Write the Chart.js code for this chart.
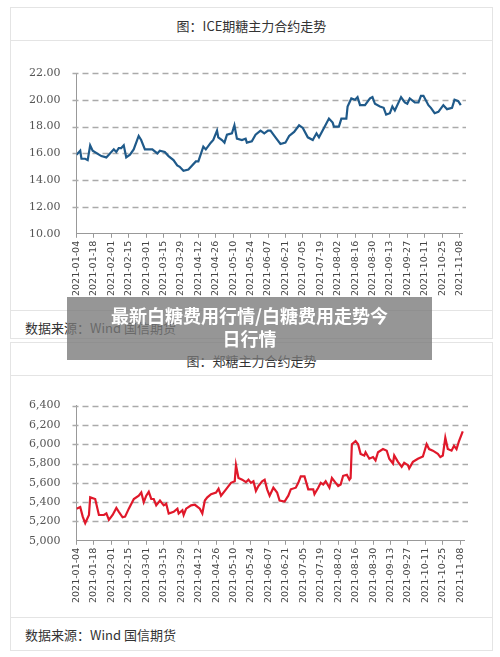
<!DOCTYPE html>
<html><head><meta charset="utf-8">
<script src="https://cdn.jsdelivr.net/npm/chart.js@4.4.0/dist/chart.umd.min.js"></script>
<style>
body{margin:0;background:#fff;font-family:"Noto Sans CJK SC",sans-serif;}
.card{position:absolute;left:10px;width:481px;border:1px solid #e4e4e4;background:#fff;}
.title{position:absolute;left:0;width:100%;text-align:center;font-size:13px;color:#333;}
.sep{position:absolute;left:0;width:100%;border-top:1px solid #e4e4e4;}
.foot{position:absolute;left:14px;font-size:13px;color:#333;}
.cv{position:absolute;left:0;}
#banner{position:absolute;left:67px;top:297px;width:365px;height:63px;background:rgba(120,120,120,0.78);color:#fff;font-weight:bold;font-size:18px;line-height:23px;text-align:center;padding-top:7px;box-sizing:border-box;}
</style></head><body>
<div class="card" style="top:7px;height:330px;">
  <div class="title" style="top:8px;">图：ICE期糖主力合约走势</div>
  <div class="sep" style="top:32px;"></div>
  <div class="cv" style="top:40px;width:481px;height:251px;"><canvas id="c1"></canvas></div>
  <div class="sep" style="top:302px;"></div>
  <div class="foot" style="top:310px;">数据来源：Wind 国信期货</div>
</div>
<div class="card" style="top:342px;height:307px;">
  <div class="title" style="top:8px;">图：郑糖主力合约走势</div>
  <div class="sep" style="top:32px;"></div>
  <div class="cv" style="top:48px;width:481px;height:215px;"><canvas id="c2"></canvas></div>
  <div class="sep" style="top:274px;"></div>
  <div class="foot" style="top:282px;">数据来源：Wind 国信期货</div>
</div>
<div id="banner">最新白糖费用行情/白糖费用走势今<br>日行情</div>
<script>
const startDate = [2021, 0, 4];
const iceDays = [0,3,4,7,9,11,13,20,24,26,30,32,34,36,38,40,43,46,50,52,55,58,61,65,67,71,74,78,81,83,86,90,96,98,102,104,108,110,113,114,117,119,121,125,127,129,133,136,137,141,144,148,151,154,156,160,164,168,171,175,179,182,186,190,193,195,199,203,206,207,211,213,217,218,221,224,226,228,232,236,238,240,244,247,249,252,254,256,261,264,266,268,272,275,277,279,283,285,288,291,295,298,302,304,307,309];
const iceVals = [15.9,16.2,15.6,15.6,15.5,16.6,16.2,15.8,15.7,15.9,16.3,16.1,16.4,16.4,16.6,15.7,15.9,16.3,17.3,17.0,16.3,16.3,16.3,16.0,16.2,16.1,15.8,15.5,15.1,15.0,14.7,14.8,15.4,15.4,16.5,16.3,16.8,17.0,17.7,17.2,17.0,16.8,17.4,17.5,18.1,17.1,17.0,17.1,16.8,16.9,17.4,17.7,17.5,17.7,17.7,17.2,16.7,16.8,17.3,17.6,18.1,17.9,17.2,17.0,17.5,17.2,17.9,18.6,18.3,18.0,18.0,18.6,18.6,19.5,20.1,20.0,20.2,19.6,19.6,20.1,20.2,19.7,19.5,19.4,18.9,19.0,19.5,19.2,20.2,19.8,19.7,20.1,19.8,19.8,20.3,20.3,19.6,19.4,19.0,19.1,19.6,19.3,19.4,20.0,19.9,19.6];
const zceDays = [0,3,5,7,10,11,15,18,22,24,26,29,32,34,37,39,42,46,50,52,54,56,58,60,62,64,67,70,72,74,78,81,82,85,86,88,92,95,99,101,103,105,108,112,114,116,120,124,127,128,130,133,136,138,140,142,144,146,149,151,153,155,158,161,163,167,170,172,176,178,180,183,186,190,191,194,196,198,200,203,205,208,210,212,214,217,219,220,221,224,226,228,231,232,235,238,240,242,246,249,251,254,255,258,261,263,266,267,270,274,278,281,283,286,290,292,294,296,298,301,303,305,307,310];
const zceVals = [5333,5350,5250,5183,5267,5450,5433,5267,5267,5283,5217,5267,5340,5300,5243,5250,5333,5433,5467,5500,5400,5467,5507,5433,5433,5367,5417,5367,5383,5283,5300,5333,5283,5317,5267,5333,5367,5373,5333,5283,5417,5450,5483,5500,5540,5467,5533,5600,5617,5783,5650,5633,5607,5633,5600,5617,5517,5567,5617,5633,5533,5467,5550,5500,5417,5407,5467,5533,5550,5600,5667,5667,5533,5533,5483,5550,5600,5583,5617,5550,5650,5600,5567,5583,5673,5683,5633,5650,6000,6033,6000,5900,5883,5917,5850,5867,5833,5917,5950,5933,5850,5800,5883,5817,5767,5807,5783,5750,5817,5850,5873,6000,5950,5933,5900,5867,5883,6067,5950,5933,5983,5950,6033,6133];
const iceTicks = [10,12,14,16,18,20,22];
const zceTicks = [5000,5200,5400,5600,5800,6000,6200,6400];

function dayLabel(d){
  const dt = new Date(Date.UTC(startDate[0],startDate[1],startDate[2]+d));
  return dt.toISOString().slice(0,10);
}
const dashGrid = {id:'dashGrid',beforeDatasetsDraw(c){
  const y=c.scales.y, a=c.chartArea, g=c.ctx;
  g.save(); g.strokeStyle='#aaa'; g.lineWidth=1.3; g.setLineDash([6,4]);
  y.ticks.forEach(t=>{ if(t.value===y.min) return; const p=Math.round(y.getPixelForValue(t.value))+0.5;
    g.beginPath(); g.moveTo(a.left-4,p); g.lineTo(a.right+4,p); g.stroke();});
  g.restore();
}};
function make(id, days, vals, yticks, color, fmt, xmax, pad){
  new Chart(document.getElementById(id),{
    type:'line',
    data:{datasets:[{data:days.map((d,i)=>({x:d,y:vals[i]})),borderColor:color,borderWidth:2.2,pointRadius:0,tension:0}]},
    options:{
      animation:false,responsive:true,maintainAspectRatio:false,
      layout:{padding:pad},
      plugins:{legend:{display:false},tooltip:{enabled:false}},
      scales:{
        x:{type:'linear',min:0,max:xmax,
          afterBuildTicks:s=>{const t=[];for(let v=0;v<=308;v+=14)t.push({value:v});s.ticks=t;},
          ticks:{callback:v=>dayLabel(v),maxRotation:90,minRotation:90,autoSkip:false,font:{size:9.5,family:'DejaVu Sans'},color:'#444'},
          grid:{display:true,drawOnChartArea:false,drawTicks:true,tickLength:4,color:'#999'},
          border:{display:true,color:'#999'}},
        y:{min:yticks[0],max:yticks[yticks.length-1],
          afterBuildTicks:s=>{s.ticks=yticks.map(v=>({value:v}));},
          ticks:{callback:fmt,font:{size:11,family:'DejaVu Serif'},color:'#555',padding:8},
          grid:{display:false},
          border:{display:true,color:'#999'}}
      }
    },
    plugins:[dashGrid]
  });
}
make('c1',iceDays,iceVals,iceTicks,'#1f5a8a',v=>v.toFixed(2),310,{left:10,right:30,top:25,bottom:0});
make('c2',zceDays,zceVals,zceTicks,'#e0182a',v=>v.toLocaleString('en-US'),311,{left:10,right:28,top:1,bottom:0});
</script>
</body></html>
